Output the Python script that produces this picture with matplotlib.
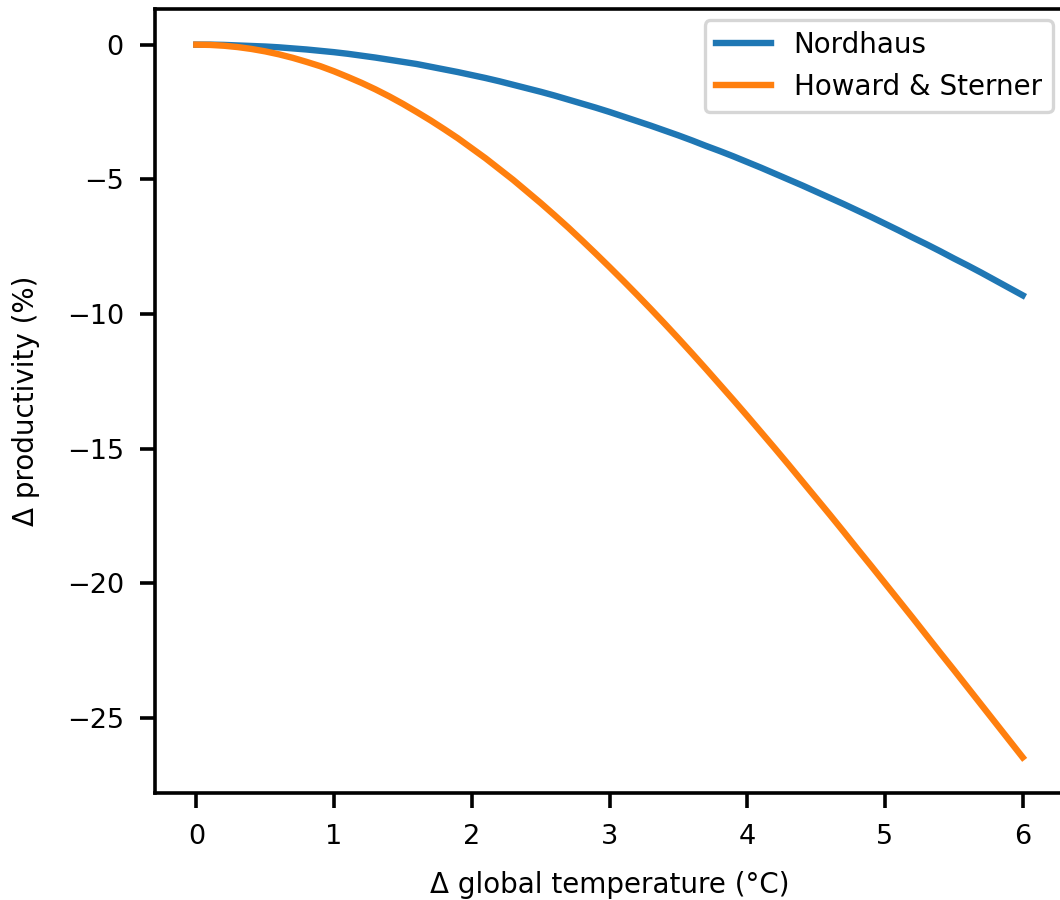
import matplotlib
matplotlib.use("Agg")
import matplotlib.pyplot as plt

temperature = [0.0, 0.1, 0.2, 0.3, 0.4, 0.5, 0.6, 0.7, 0.8, 0.9,
               1.0, 1.1, 1.2, 1.3, 1.4, 1.5, 1.6, 1.7, 1.8, 1.9,
               2.0, 2.1, 2.2, 2.3, 2.4, 2.5, 2.6, 2.7, 2.8, 2.9,
               3.0, 3.1, 3.2, 3.3, 3.4, 3.5, 3.6, 3.7, 3.8, 3.9,
               4.0, 4.1, 4.2, 4.3, 4.4, 4.5, 4.6, 4.7, 4.8, 4.9,
               5.0, 5.1, 5.2, 5.3, 5.4, 5.5, 5.6, 5.7, 5.8, 5.9, 6.0]
nordhaus = [0.00, -0.00, -0.01, -0.03, -0.05, -0.07, -0.10, -0.14, -0.18, -0.23,
            -0.28, -0.34, -0.41, -0.48, -0.56, -0.64, -0.72, -0.82, -0.92, -1.02,
            -1.13, -1.24, -1.36, -1.49, -1.62, -1.75, -1.89, -2.04, -2.19, -2.34,
            -2.50, -2.67, -2.84, -3.01, -3.19, -3.37, -3.56, -3.76, -3.95, -4.15,
            -4.36, -4.57, -4.79, -5.01, -5.23, -5.46, -5.69, -5.92, -6.16, -6.40,
            -6.65, -6.90, -7.16, -7.41, -7.67, -7.94, -8.20, -8.47, -8.75, -9.03, -9.31]
howard_sterner = [0.00, -0.01, -0.04, -0.09, -0.16, -0.25, -0.36, -0.49, -0.64, -0.80,
                  -0.99, -1.20, -1.42, -1.66, -1.92, -2.20, -2.50, -2.81, -3.14, -3.48,
                  -3.85, -4.22, -4.62, -5.02, -5.45, -5.88, -6.33, -6.79, -7.27, -7.76,
                  -8.26, -8.77, -9.29, -9.82, -10.36, -10.91, -11.47, -12.04, -12.62, -13.20,
                  -13.79, -14.39, -14.99, -15.60, -16.22, -16.84, -17.46, -18.09, -18.73, -19.36,
                  -20.00, -20.64, -21.28, -21.93, -22.58, -23.22, -23.87, -24.52, -25.17, -25.82, -26.47]
labels = ["Nordhaus", "Howard & Sterner"]
xticks = [0, 1, 2, 3, 4, 5, 6]
yticks = [0, -5, -10, -15, -20, -25]

plt.rcParams['font.family'] = ['DejaVu Sans']
fig = plt.figure(figsize=(10.6, 9), dpi=100)
ax = fig.add_axes([155/1060, 1 - 793/900, (1064-155)/1060, (793-9)/900])

ax.plot(temperature, nordhaus, color="#1f77b4", lw=4.6, label=labels[0])
ax.plot(temperature, howard_sterner, color="#ff7f0e", lw=4.6, label=labels[1])

ax.set_xticks(xticks)
ax.set_yticks(yticks)
ax.set_yticklabels([f"\u2212{abs(v)}" if v < 0 else str(v) for v in yticks])
ax.tick_params(labelsize=19.5, length=10.5, width=2.6, pad=12)
for s in ax.spines.values():
    s.set_linewidth(2.6)
ax.set_xlabel("\u0394 global temperature (\u00b0C)", fontsize=20, labelpad=15)
ax.set_ylabel("\u0394 productivity (%)", fontsize=20, labelpad=19)
leg = ax.legend(loc="upper right", fontsize=20, handlelength=2.0,
                borderaxespad=0.4, edgecolor="#cccccc")
leg.get_frame().set_linewidth(2.4)

fig.savefig("out.png", dpi=100)
